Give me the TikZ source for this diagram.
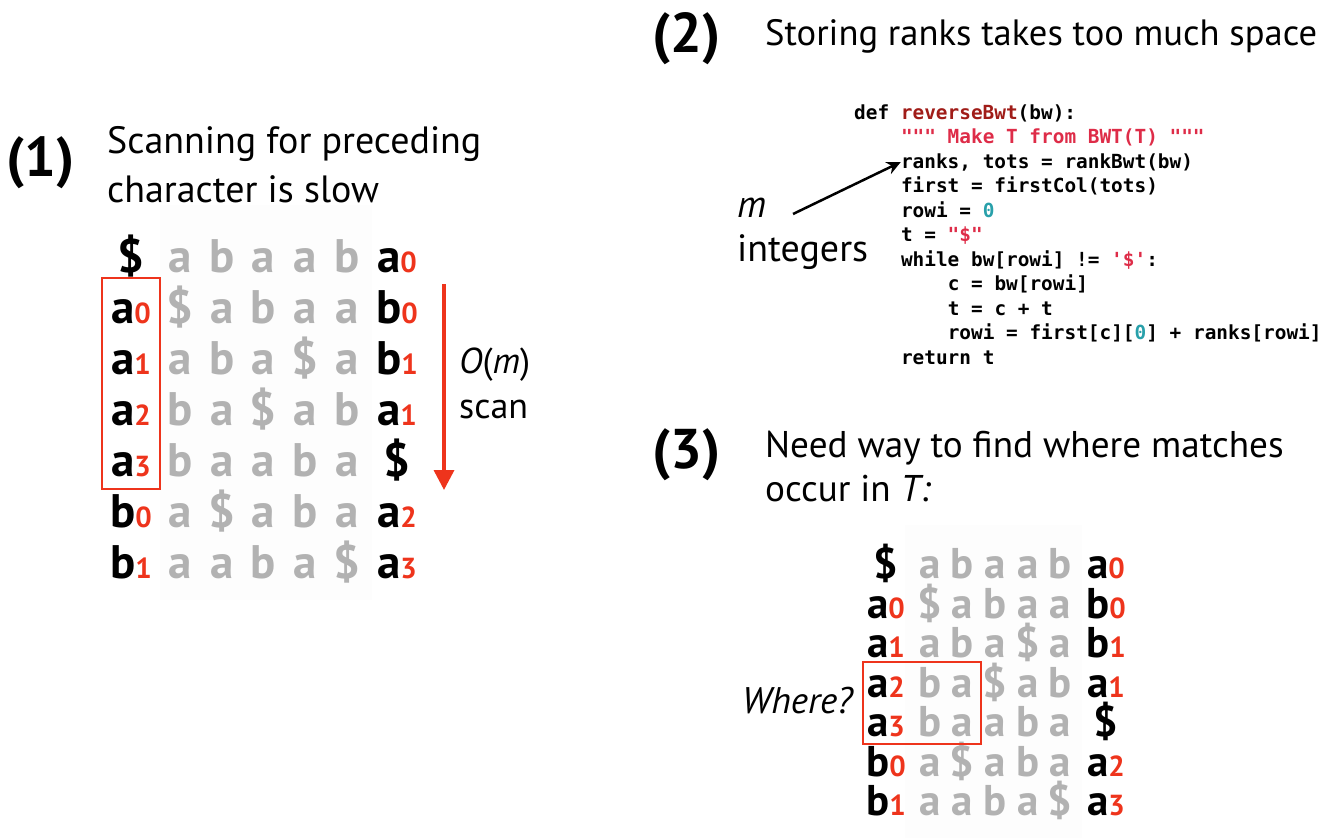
\documentclass[tikz,border=0pt]{standalone}
\usepackage{fontspec}
\setmainfont{PT Sans}
\setmonofont{DejaVu Sans Mono}
\usetikzlibrary{arrows.meta}
\definecolor{redm}{RGB}{238,52,28}
\definecolor{graym}{RGB}{178,178,178}
\definecolor{cfn}{RGB}{160,28,24}
\definecolor{cstr}{RGB}{222,44,72}
\definecolor{cnum}{RGB}{40,160,170}
\definecolor{bgm}{RGB}{253,253,253}
\newcommand\lsub[2]{#1{\fontsize{29}{29}\selectfont\textcolor{redm}{#2}}}
\newcommand\bwtrow[9]{%
  \node[mcell,bk] (#1L) at (\cxL,#2) {#3};
  \node[mcell,gr] (#1a) at (\cxa,#2) {#4};
  \node[mcell,gr] (#1b) at (\cxb,#2) {#5};
  \node[mcell,gr] (#1c) at (\cxc,#2) {#6};
  \node[mcell,gr] (#1d) at (\cxd,#2) {#7};
  \node[mcell,gr] (#1e) at (\cxe,#2) {#8};
  \node[mcell,bk] (#1R) at (\cxR,#2) {#9};
}
\tikzset{
  txt/.style={anchor=base west, inner sep=0, font=\fontsize{38}{40}\selectfont},
  numlbl/.style={anchor=base west, inner sep=0, font=\fontsize{56}{58}\selectfont\bfseries},
  mcell/.style={anchor=base, inner sep=0, font=\mfont},
  bk/.style={text=black},
  gr/.style={text=graym},
  code/.style={anchor=base west, inner sep=0, font=\fontsize{19.4}{20}\selectfont\ttfamily\bfseries},
  redbox/.style={draw=redm, line width=2.5pt},
}
\begin{document}
\begin{tikzpicture}[x=1pt,y=-1pt]
\useasboundingbox (0,0) rectangle (1335,838);
% faint backgrounds
\fill[bgm] (160,205) rectangle (372,600);
\fill[bgm] (905,525) rectangle (1082,838);

% ---- (1)
\node[numlbl] (n1) at (6,176) {(1)};
\node[txt] (t1a) at (107,153) {Scanning for preceding};
\node[txt] (t1b) at (107,202) {character is slow};

\def\mfont{\fontsize{47}{47}\selectfont\bfseries}
\def\cxL{131}\def\cxa{180}\def\cxb{222}\def\cxc{263}\def\cxd{305}\def\cxe{347}\def\cxR{397}
\bwtrow{p0}{272}{\$}{a}{b}{a}{a}{b}{\lsub{a}{0}}
\bwtrow{p1}{323}{\lsub{a}{0}}{\$}{a}{b}{a}{a}{\lsub{b}{0}}
\bwtrow{p2}{374}{\lsub{a}{1}}{a}{b}{a}{\$}{a}{\lsub{b}{1}}
\bwtrow{p3}{425}{\lsub{a}{2}}{b}{a}{\$}{a}{b}{\lsub{a}{1}}
\bwtrow{p4}{476}{\lsub{a}{3}}{b}{a}{a}{b}{a}{\$}
\bwtrow{p5}{527}{\lsub{b}{0}}{a}{\$}{a}{b}{a}{\lsub{a}{2}}
\bwtrow{p6}{578}{\lsub{b}{1}}{a}{a}{b}{a}{\$}{\lsub{a}{3}}
\draw[redbox] (102,278) rectangle (160,489);

\coordinate (s1) at (444,284);
\coordinate (s2) at (444,490);
\draw[redm, line width=3.5pt, -{Triangle[width=20pt,length=20pt]}] (s1) -- (s2);
\node[anchor=base west, inner sep=0, font=\fontsize{36}{38}\selectfont] (om) at (459,373) {\textit{O}(\textit{m})};
\node[anchor=base west, inner sep=0, font=\fontsize{36}{38}\selectfont] (scan) at (459,418) {scan};

% ---- (2)
\node[numlbl] (n2) at (652,52) {(2)};
\node[txt, font=\fontsize{36.6}{38}\selectfont] (t2) at (765,45) {Storing ranks takes too much space};

\node[code] (c1) at (854,119) {def \textcolor{cfn}{reverseBwt}(bw):};
\node[code] (c2) at (900.8,143.5) {\textcolor{cstr}{"{}"{}" Make T from BWT(T) "{}"{}"}};
\node[code] (c3) at (900.8,168) {ranks, tots = rankBwt(bw)};
\node[code] (c4) at (900.8,192.5) {first = firstCol(tots)};
\node[code] (c5) at (900.8,217) {rowi = \textcolor{cnum}{0}};
\node[code] (c6) at (900.8,241.5) {t = \textcolor{cstr}{"\$"}};
\node[code] (c7) at (900.8,266) {while bw[rowi] != \textcolor{cstr}{'\$'}:};
\node[code] (c8) at (947.6,290.5) {c = bw[rowi]};
\node[code] (c9) at (947.6,315) {t = c + t};
\node[code] (c10) at (947.6,339.5) {rowi = first[c][\textcolor{cnum}{0}] + ranks[rowi]};
\node[code] (c11) at (900.8,364) {return t};

\node[txt] (mm) at (737,217) {\textit{m}};
\node[txt] (ints) at (737,261) {integers};
\coordinate (ma) at (793,214);
\draw[line width=2.5pt, -{Stealth[width=13pt,length=14pt]}] (ma) -- (c3.west);

% ---- (3)
\node[numlbl] (n3) at (652,468) {(3)};
\node[txt, font=\fontsize{37.2}{38}\selectfont] (t3a) at (765,457) {Need way to find where matches};
\node[txt, font=\fontsize{37.2}{38}\selectfont] (t3b) at (765,501) {occur in \textit{T:}};

\def\mfont{\fontsize{43}{43}\selectfont\bfseries}
\def\cxL{886}\def\cxa{930}\def\cxb{962}\def\cxc{995}\def\cxd{1028}\def\cxe{1060}\def\cxR{1106}
\bwtrow{q0}{578}{\$}{a}{b}{a}{a}{b}{\lsub{a}{0}}
\bwtrow{q1}{618}{\lsub{a}{0}}{\$}{a}{b}{a}{a}{\lsub{b}{0}}
\bwtrow{q2}{657}{\lsub{a}{1}}{a}{b}{a}{\$}{a}{\lsub{b}{1}}
\bwtrow{q3}{697}{\lsub{a}{2}}{b}{a}{\$}{a}{b}{\lsub{a}{1}}
\bwtrow{q4}{736}{\lsub{a}{3}}{b}{a}{a}{b}{a}{\$}
\bwtrow{q5}{776}{\lsub{b}{0}}{a}{\$}{a}{b}{a}{\lsub{a}{2}}
\bwtrow{q6}{815}{\lsub{b}{1}}{a}{a}{b}{a}{\$}{\lsub{a}{3}}
\draw[redbox] (863,662) rectangle (981,744);
\node[txt, font=\fontsize{37}{38}\selectfont\itshape] (wh) at (742,713) {Where?};
\end{tikzpicture}
\end{document}
